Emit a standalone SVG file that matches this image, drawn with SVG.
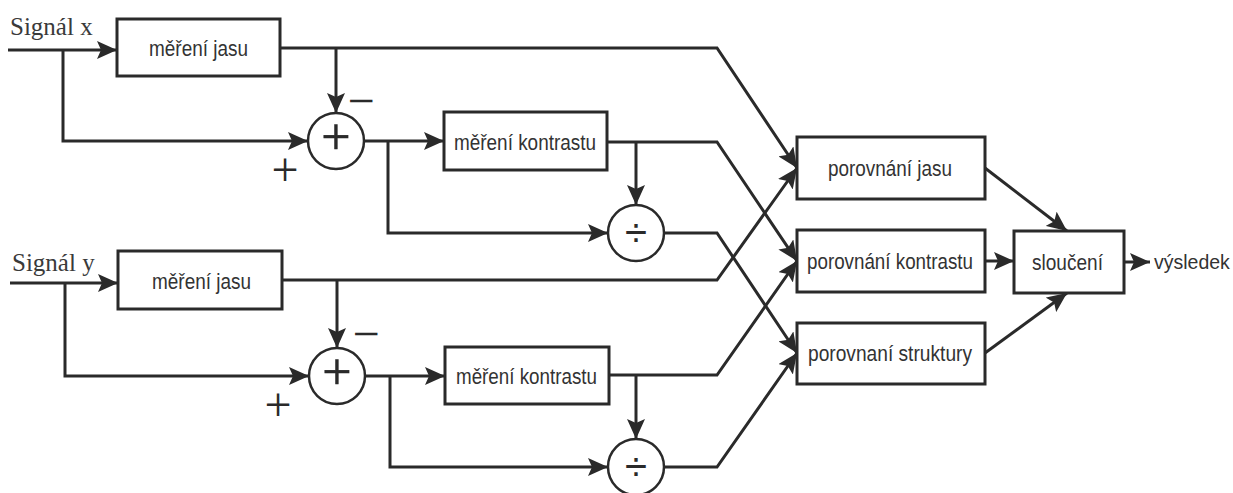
<svg xmlns="http://www.w3.org/2000/svg" width="1233" height="493" viewBox="0 0 1233 493">
  <style>
    .box { fill: #ffffff; stroke: #2a2a2a; stroke-width: 3; }
    .op { fill: #ffffff; stroke: #2a2a2a; stroke-width: 2.5; }
    .wire { fill: none; stroke: #2a2a2a; stroke-width: 3; stroke-linejoin: miter; }
    .arr { marker-end: url(#head); }
    .lbl { font-family: "Liberation Sans", Arial, sans-serif; font-size: 22px; fill: #333333; text-anchor: middle; }
    .out { font-family: "Liberation Sans", Arial, sans-serif; font-size: 19.5px; fill: #333333; }
    .sig { font-family: "Liberation Serif", "Times New Roman", serif; font-size: 25px; fill: #3a3a3a; }
    .sign { font-family: "Liberation Serif", "Times New Roman", serif; font-size: 48px; fill: #2a2a2a; text-anchor: middle; }
    .plus { font-family: "Liberation Serif", "Times New Roman", serif; font-size: 52px; fill: #2a2a2a; stroke: #2a2a2a; stroke-width: 0.6; text-anchor: middle; }
    .div { font-family: "Liberation Sans", Arial, sans-serif; font-size: 40px; fill: #2a2a2a; text-anchor: middle; }
  </style>
  <defs>
    <marker id="head" viewBox="0 0 20 18" refX="20" refY="9" markerWidth="20" markerHeight="18" markerUnits="userSpaceOnUse" orient="auto">
      <path d="M0,0 L20,9 L0,18 L4,9 Z" fill="#2a2a2a"/>
    </marker>
  </defs>

  <!-- input labels -->
  <text class="sig" x="10" y="35">Signál x</text>
  <text class="sig" x="12" y="271">Signál y</text>

  <!-- connectors -->
  <g id="connectors">
    <!-- signal x branch -->
    <path class="wire arr" d="M8,50 H117"/>
    <path class="wire arr" d="M63,50 V141 H308"/>
    <path class="wire arr" d="M280,48 H717 L797,168"/>
    <path class="wire arr" d="M336,48 V113"/>
    <path class="wire arr" d="M364,141 H444"/>
    <path class="wire arr" d="M388,141 V233 H608"/>
    <path class="wire arr" d="M607,142 H717 L797,261"/>
    <path class="wire arr" d="M636,142 V205"/>
    <path class="wire arr" d="M664,233 H717 L797,353"/>

    <!-- signal y branch -->
    <path class="wire arr" d="M10,283 H118"/>
    <path class="wire arr" d="M65,283 V376 H309"/>
    <path class="wire arr" d="M282,280 H717 L797,168"/>
    <path class="wire arr" d="M337,280 V348"/>
    <path class="wire arr" d="M365,376 H445"/>
    <path class="wire arr" d="M390,376 V467 H608"/>
    <path class="wire arr" d="M609,375 H717 L797,261"/>
    <path class="wire arr" d="M636,375 V439"/>
    <path class="wire arr" d="M664,467 H717 L797,353"/>

    <!-- comparison to fusion -->
    <path class="wire arr" d="M985,168 L1067,231"/>
    <path class="wire arr" d="M985,261 H1014"/>
    <path class="wire arr" d="M985,353 L1067,293"/>
    <path class="wire arr" d="M1124,262 H1150"/>
  </g>

  <!-- signal x chain -->
  <g id="jas-x">
    <rect class="box" x="117" y="19" width="163" height="57"/>
    <text class="lbl" x="198.5" y="56" textLength="99" lengthAdjust="spacingAndGlyphs">měření jasu</text>
  </g>
  <g id="sum-x">
    <circle class="op" cx="336" cy="141" r="28"/>
    <text class="plus" x="336" y="154">+</text>
    <text class="sign" x="361" y="117">−</text>
    <text class="sign" x="285" y="186">+</text>
  </g>
  <g id="kontrast-x">
    <rect class="box" x="444" y="112" width="163" height="58"/>
    <text class="lbl" x="525" y="149.5" textLength="142" lengthAdjust="spacingAndGlyphs">měření kontrastu</text>
  </g>
  <g id="div-x">
    <circle class="op" cx="636" cy="233" r="28"/>
    <text class="div" x="636" y="246">÷</text>
  </g>

  <!-- signal y chain -->
  <g id="jas-y">
    <rect class="box" x="118" y="251" width="164" height="58"/>
    <text class="lbl" x="201.5" y="288.5" textLength="99" lengthAdjust="spacingAndGlyphs">měření jasu</text>
  </g>
  <g id="sum-y">
    <circle class="op" cx="337" cy="376" r="28"/>
    <text class="plus" x="337" y="389">+</text>
    <text class="sign" x="366" y="350">−</text>
    <text class="sign" x="278" y="421">+</text>
  </g>
  <g id="kontrast-y">
    <rect class="box" x="445" y="347" width="164" height="57"/>
    <text class="lbl" x="526.5" y="383.5" textLength="141" lengthAdjust="spacingAndGlyphs">měření kontrastu</text>
  </g>
  <g id="div-y">
    <circle class="op" cx="636" cy="467" r="28"/>
    <text class="div" x="636" y="480">÷</text>
  </g>

  <!-- comparison blocks -->
  <g id="cmp-jas">
    <rect class="box" x="797" y="137" width="188" height="62"/>
    <text class="lbl" x="890" y="176" textLength="124" lengthAdjust="spacingAndGlyphs">porovnání jasu</text>
  </g>
  <g id="cmp-kontrast">
    <rect class="box" x="797" y="230" width="188" height="62"/>
    <text class="lbl" x="890" y="269" textLength="166" lengthAdjust="spacingAndGlyphs">porovnání kontrastu</text>
  </g>
  <g id="cmp-struktura">
    <rect class="box" x="797" y="323" width="188" height="61"/>
    <text class="lbl" x="890" y="361" textLength="164" lengthAdjust="spacingAndGlyphs">porovnaní struktury</text>
  </g>

  <!-- fusion and result -->
  <g id="slouceni">
    <rect class="box" x="1014" y="231" width="110" height="62"/>
    <text class="lbl" x="1067.5" y="270" textLength="71" lengthAdjust="spacingAndGlyphs">sloučení</text>
  </g>
  <g id="vysledek">
    <text class="out" x="1154" y="269">výsledek</text>
  </g>
</svg>
